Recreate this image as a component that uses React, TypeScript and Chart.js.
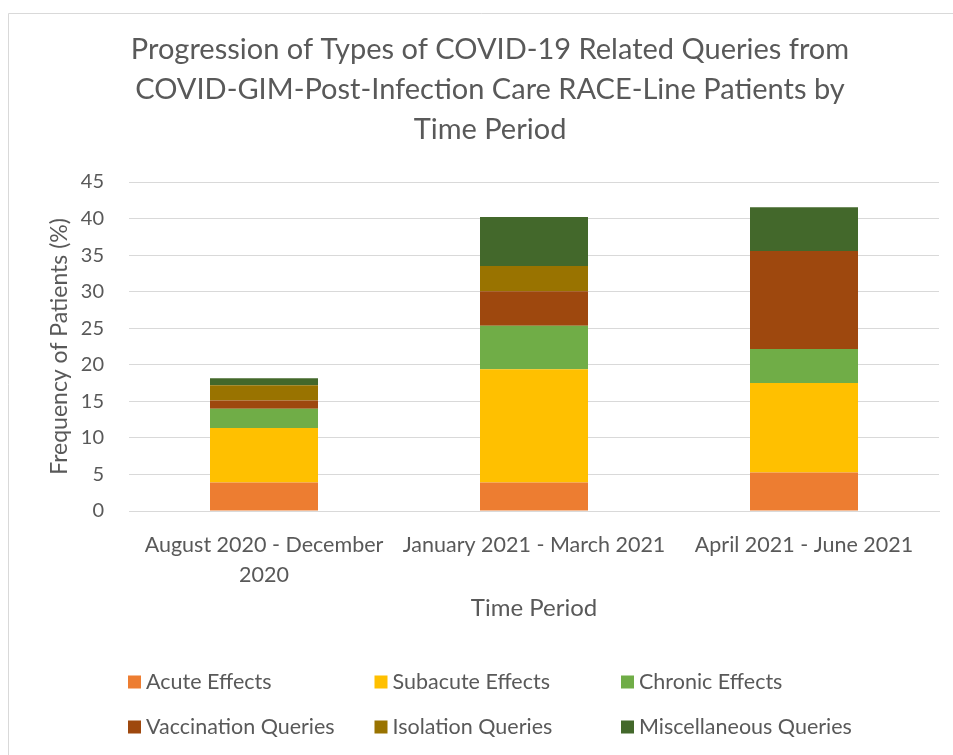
import React, { useEffect, useRef } from "react";
import { Chart, registerables } from "chart.js";

Chart.register(...registerables);

const categories: (string | string[])[] = [
  ["August 2020 - December", "2020"],
  "January 2021 - March 2021",
  "April 2021 - June 2021",
];

const seriesNames = [
  "Acute Effects",
  "Subacute Effects",
  "Chronic Effects",
  "Vaccination Queries",
  "Isolation Queries",
  "Miscellaneous Queries",
];

const acuteEffects = [3.9, 3.9, 5.25];
const subacuteEffects = [7.45, 15.5, 12.25];
const chronicEffects = [2.65, 5.95, 4.65];
const vaccinationQueries = [1.1, 4.7, 13.4];
const isolationQueries = [2.1, 3.45, 0];
const miscellaneousQueries = [0.95, 6.7, 6.0];

const seriesValues = [
  acuteEffects,
  subacuteEffects,
  chronicEffects,
  vaccinationQueries,
  isolationQueries,
  miscellaneousQueries,
];

const seriesColors = ["#ED7D31", "#FFC000", "#70AD47", "#9E480E", "#997300", "#43682B"];

const titleLines = [
  "Progression of Types of COVID-19 Related Queries from",
  "COVID-GIM-Post-Infection Care RACE-Line Patients by",
  "Time Period",
];

const yTicks = [0, 5, 10, 15, 20, 25, 30, 35, 40, 45];

const FONT = "Lato, 'Open Sans', sans-serif";
const TEXT = "#595959";
const GRID = "#D9D9D9";

const framePlugin = {
  id: "frame",
  beforeDraw(chart: any) {
    const ctx = chart.ctx;
    ctx.save();
    ctx.fillStyle = "#ffffff";
    ctx.fillRect(0, 0, chart.width, chart.height);
    ctx.strokeStyle = GRID;
    ctx.lineWidth = 1;
    ctx.beginPath();
    ctx.moveTo(8.5, chart.height + 5);
    ctx.lineTo(8.5, 13.5);
    ctx.lineTo(chart.width + 5, 13.5);
    ctx.stroke();
    ctx.restore();
  },
};

const gridLegendPlugin = {
  id: "gridLegend",
  afterDraw(chart: any) {
    const ctx = chart.ctx;
    ctx.save();
    ctx.font = `21.5px ${FONT}`;
    ctx.textBaseline = "middle";
    ctx.textAlign = "left";
    chart.data.datasets.forEach((ds: any, i: number) => {
      const col = i % 3;
      const row = Math.floor(i / 3);
      const x = 128 + col * 246.5;
      const y = 682 + row * 45;
      ctx.fillStyle = ds.backgroundColor;
      ctx.fillRect(x, y - 6.5, 13, 13);
      ctx.fillStyle = TEXT;
      ctx.fillText(ds.label, x + 18, y);
    });
    ctx.restore();
  },
};

export default function App() {
  const ref = useRef<HTMLCanvasElement | null>(null);

  useEffect(() => {
    if (!ref.current) return;
    const chart = new Chart(ref.current, {
      type: "bar",
      data: {
        labels: categories,
        datasets: seriesNames.map((name, i) => ({
          label: name,
          data: seriesValues[i],
          backgroundColor: seriesColors[i],
          borderWidth: 0,
          stack: "s",
          barPercentage: 0.4,
          categoryPercentage: 1.0,
        })),
      },
      options: {
        responsive: false,
        animation: false,
        layout: { padding: { left: 41, right: 14, top: 0, bottom: 124 } },
        plugins: {
          legend: { display: false },
          tooltip: { enabled: false },
          title: {
            display: true,
            text: titleLines,
            color: TEXT,
            font: { family: FONT, size: 29, weight: "normal", lineHeight: 40 / 29 },
            padding: { top: 30, bottom: 32 },
          },
        },
        scales: {
          x: {
            stacked: true,
            grid: { display: false },
            border: { display: true, color: GRID, width: 1 },
            ticks: {
              color: TEXT,
              autoSkip: false,
              maxRotation: 0,
              padding: 11,
              font: { family: FONT, size: 21.5, lineHeight: 30 / 21.5 },
            },
            title: {
              display: true,
              text: "Time Period",
              color: TEXT,
              font: { family: FONT, size: 24, lineHeight: 1.2 },
              padding: { top: 0, bottom: 8 },
            },
            afterFit(scale: any) {
              scale.height = 120;
            },
          },
          y: {
            stacked: true,
            min: 0,
            max: 45,
            afterBuildTicks(scale: any) {
              scale.ticks = yTicks.map((v) => ({ value: v }));
            },
            grid: { color: GRID, lineWidth: 1, drawTicks: false },
            border: { display: false },
            ticks: {
              color: TEXT,
              padding: 25,
              font: { family: FONT, size: 20 },
            },
            title: {
              display: true,
              text: "Frequency of Patients (%)",
              color: TEXT,
              font: { family: FONT, size: 23, lineHeight: 1.2 },
              padding: { top: 5, bottom: 0 },
            },
            afterFit(scale: any) {
              scale.width = 88;
            },
          },
        },
      },
      plugins: [framePlugin, gridLegendPlugin],
    } as any);
    return () => chart.destroy();
  }, []);

  return (
    <div style={{ position: "fixed", left: 0, top: 0, width: 953, height: 755, background: "#fff", overflow: "hidden" }}>
      <canvas ref={ref} width={953} height={755} style={{ width: 953, height: 755, display: "block" }} />
    </div>
  );
}
